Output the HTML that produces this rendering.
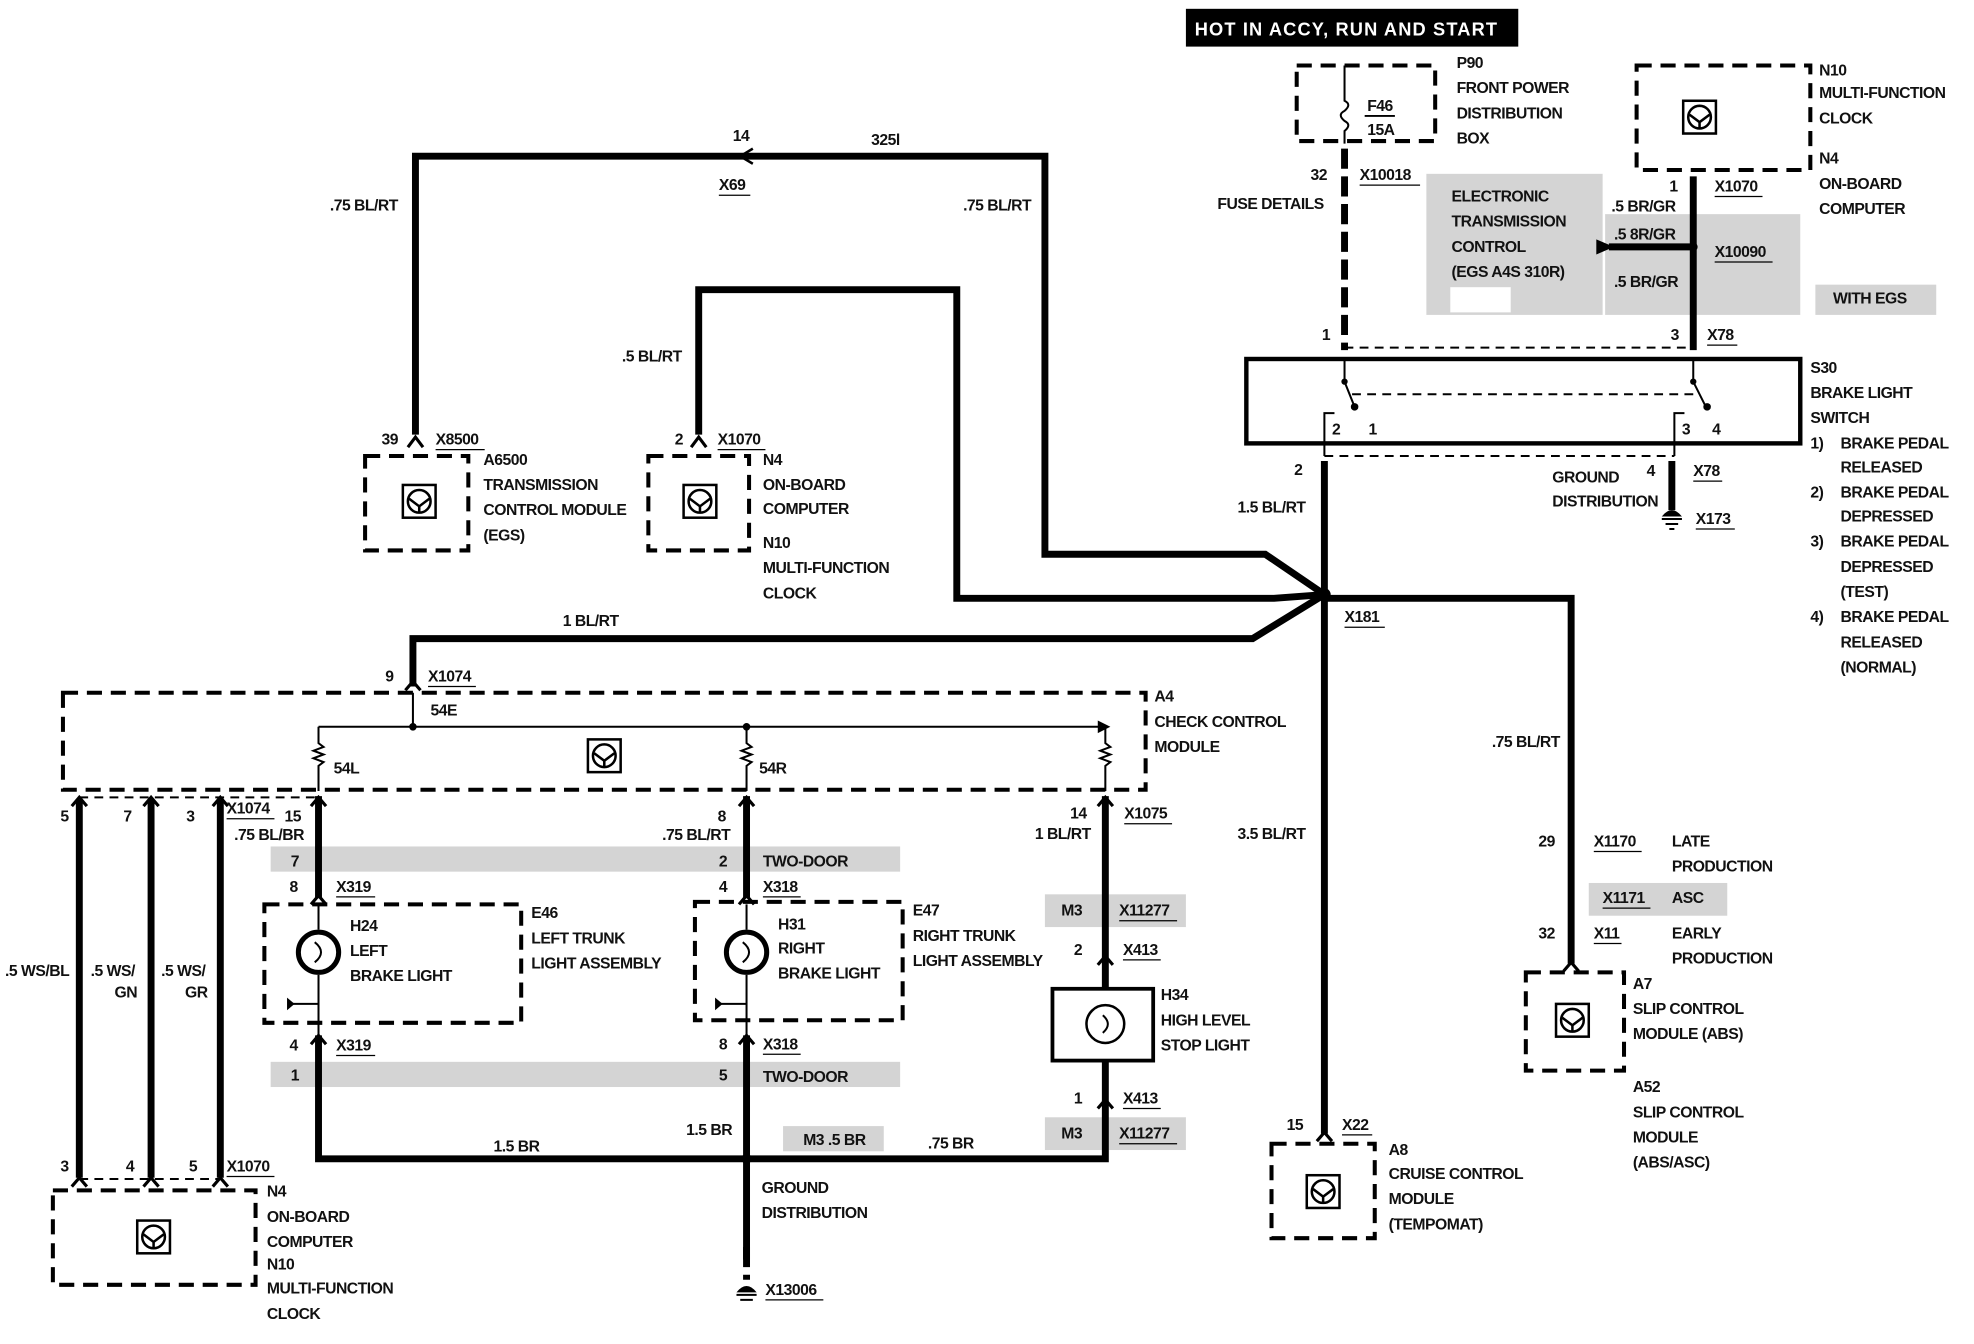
<!DOCTYPE html>
<html><head><meta charset="utf-8"><style>
html,body{margin:0;padding:0;background:#fff;}
svg{display:block;}
text{font-family:"Liberation Sans",sans-serif;font-size:12.5px;font-weight:bold;fill:#111;letter-spacing:-0.4px;}
.w{stroke:#000;stroke-width:5.5;fill:none;}
.t{stroke:#000;stroke-width:1.6;fill:none;}
.d{stroke:#000;stroke-width:3.2;fill:none;stroke-dasharray:12,7;}
.dd{stroke:#000;stroke-width:5.5;fill:none;stroke-dasharray:16,6;}
.dt{stroke:#000;stroke-width:1.6;fill:none;stroke-dasharray:7,5;}
.sh{fill:#d4d4d4;}
</style></head><body>
<svg width="1974" height="1344" viewBox="0 0 1568 1067" preserveAspectRatio="none" xmlns="http://www.w3.org/2000/svg">
<defs>
<g id="ic"><rect x="-13" y="-13" width="26" height="26" fill="#fff" stroke="#000" stroke-width="2"/><circle r="9" fill="none" stroke="#000" stroke-width="2"/><path d="M-8,-2 L0,4 L8,-2 M0,4 L0,9" stroke="#000" stroke-width="2" fill="none"/></g>
</defs>
<rect class="sh" x="1133" y="138" width="140" height="112"/>
<rect class="sh" x="1275" y="170" width="155" height="80"/>
<rect class="sh" x="1442" y="226" width="96" height="24"/>
<rect x="1152" y="228" width="48" height="20" fill="#fff"/>
<rect class="sh" x="215" y="672" width="500" height="20"/>
<rect class="sh" x="215" y="843" width="500" height="20"/>
<rect class="sh" x="830" y="710" width="112" height="26"/>
<rect class="sh" x="830" y="887" width="112" height="26"/>
<rect class="sh" x="622" y="894" width="80" height="20"/>
<rect class="sh" x="1262" y="701" width="110" height="26"/>

<rect x="942" y="7" width="264" height="30" fill="#000"/>
<text x="949" y="28" style="fill:#fff;font-size:14.5px;letter-spacing:0.9px;">HOT IN ACCY, RUN AND START</text>

<rect class="d" x="1030" y="52" width="110" height="60"/>
<path class="t" d="M1068,52 v28 q6,3 0,8 q-6,3 0,8 q6,3 0,8 v10" stroke-width="3"/>
<text x="1086" y="88">F46</text><line x1="1084" y1="92" x2="1108" y2="92" stroke="#000" stroke-width="1.5"/>
<text x="1086" y="107">15A</text>
<text x="1157" y="54">P90</text><text x="1157" y="74">FRONT POWER</text><text x="1157" y="94">DISTRIBUTION</text><text x="1157" y="114">BOX</text>
<path class="dd" d="M1068,118 V278"/>
<text x="1041" y="143">32</text><text x="1080" y="143">X10018</text><line x1="1080" y1="147" x2="1128" y2="147" stroke="#000"/>
<text x="967" y="166">FUSE DETAILS</text>
<text x="1050" y="270">1</text>

<rect class="d" x="1300" y="52" width="138" height="83"/>
<use href="#ic" x="1350" y="93"/>
<text x="1445" y="60">N10</text><text x="1445" y="78">MULTI-FUNCTION</text><text x="1445" y="98">CLOCK</text>
<text x="1445" y="130">N4</text><text x="1445" y="150">ON-BOARD</text><text x="1445" y="170">COMPUTER</text>
<path class="w" d="M1345,140 V278"/>
<text x="1326" y="152">1</text><text x="1362" y="152">X1070</text><line x1="1362" y1="156" x2="1400" y2="156" stroke="#000"/>
<text x="1280" y="168">.5 BR/GR</text><text x="1282" y="190">.5 8R/GR</text><text x="1282" y="228">.5 BR/GR</text>
<path class="w" d="M1278,196 H1343"/><path d="M1268,190 L1282,196 L1268,202 Z"/><circle cx="1345" cy="196" r="3.5"/>
<text x="1362" y="204">X10090</text><line x1="1362" y1="208" x2="1408" y2="208" stroke="#000"/>
<text x="1153" y="160">ELECTRONIC</text><text x="1153" y="180">TRANSMISSION</text><text x="1153" y="200">CONTROL</text><text x="1153" y="220">(EGS A4S 310R)</text>
<text x="1456" y="241">WITH EGS</text>
<text x="1327" y="270">3</text><text x="1356" y="270">X78</text><line x1="1356" y1="274" x2="1380" y2="274" stroke="#000"/>
<path class="dt" d="M1068,276 H1345"/>

<rect x="990" y="285" width="440" height="67" fill="none" stroke="#000" stroke-width="3.5"/>
<path class="t" d="M1068,285 v18 l8,20 M1345,285 v18 l10,20"/>
<circle cx="1068" cy="303" r="2.5"/><circle cx="1076" cy="323" r="3"/><circle cx="1345" cy="303" r="2.5"/><circle cx="1356" cy="323" r="3"/>
<path class="dt" d="M1074,313 H1350"/>
<path class="t" d="M1052,362 V328 h8 M1330,362 V328 h8"/>
<text x="1058" y="345">2</text><text x="1087" y="345">1</text><text x="1336" y="345">3</text><text x="1360" y="345">4</text>
<path class="dt" d="M1052,362 H1330"/>
<text x="1438" y="296">S30</text><text x="1438" y="316">BRAKE LIGHT</text><text x="1438" y="336">SWITCH</text>
<text x="1438" y="356">1)</text><text x="1462" y="356">BRAKE PEDAL</text><text x="1462" y="375">RELEASED</text>
<text x="1438" y="395">2)</text><text x="1462" y="395">BRAKE PEDAL</text><text x="1462" y="414">DEPRESSED</text>
<text x="1438" y="434">3)</text><text x="1462" y="434">BRAKE PEDAL</text><text x="1462" y="454">DEPRESSED</text><text x="1462" y="474">(TEST)</text>
<text x="1438" y="494">4)</text><text x="1462" y="494">BRAKE PEDAL</text><text x="1462" y="514">RELEASED</text><text x="1462" y="534">(NORMAL)</text>
<path class="w" d="M1328,366 V405"/><path class="t" d="M1320,412 h16 M1323,416 h10 M1326,420 h4" stroke-width="2"/><path d="M1320,410 q8,-10 16,0 Z"/>
<text x="1308" y="378">4</text><text x="1345" y="378">X78</text><line x1="1345" y1="382" x2="1368" y2="382" stroke="#000"/>
<text x="1233" y="383">GROUND</text><text x="1233" y="402">DISTRIBUTION</text>
<text x="1347" y="416">X173</text><line x1="1347" y1="420" x2="1378" y2="420" stroke="#000"/>

<path class="w" d="M1052,366 V900"/>
<text x="1028" y="377">2</text><text x="983" y="407">1.5 BL/RT</text>
<circle cx="1052" cy="472" r="5"/>
<text x="1068" y="494">X181</text><line x1="1068" y1="498" x2="1100" y2="498" stroke="#000"/>
<path class="w" d="M1052,475 H1248 V765"/>
<text x="1185" y="593">.75 BL/RT</text>
<text x="983" y="666">3.5 BL/RT</text>

<path class="w" d="M330,345 V124 H830 V440 H1005 L1052,472"/>
<path d="M598,118 L588,124 L598,130" fill="none" stroke="#000" stroke-width="2"/>
<text x="582" y="112">14</text><text x="692" y="115">325l</text>
<text x="571" y="151">X69</text><line x1="571" y1="155" x2="596" y2="155" stroke="#000"/>
<text x="262" y="167">.75 BL/RT</text><text x="765" y="167">.75 BL/RT</text>
<path class="w" d="M555,345 V230 H760 V475 H1012 L1052,472"/>
<text x="494" y="287">.5 BL/RT</text>
<path class="w" d="M328,545 V507 H995 L1052,472"/>
<text x="447" y="497">1 BL/RT</text>

<path d="M324,355 l6,-8 6,8" fill="none" stroke="#000" stroke-width="2.5"/><path d="M549,355 l6,-8 6,8" fill="none" stroke="#000" stroke-width="2.5"/>
<text x="303" y="353">39</text><text x="346" y="353">X8500</text><line x1="346" y1="357" x2="385" y2="357" stroke="#000"/>
<rect class="d" x="290" y="362" width="82" height="75"/><use href="#ic" x="333" y="398"/>
<text x="384" y="369">A6500</text><text x="384" y="389">TRANSMISSION</text><text x="384" y="409">CONTROL MODULE</text><text x="384" y="429">(EGS)</text>
<text x="536" y="353">2</text><text x="570" y="353">X1070</text><line x1="570" y1="357" x2="608" y2="357" stroke="#000"/>
<rect class="d" x="515" y="362" width="80" height="75"/><use href="#ic" x="556" y="398"/>
<text x="606" y="369">N4</text><text x="606" y="389">ON-BOARD</text><text x="606" y="408">COMPUTER</text>
<text x="606" y="435">N10</text><text x="606" y="455">MULTI-FUNCTION</text><text x="606" y="475">CLOCK</text>

<text x="306" y="541">9</text><text x="340" y="541">X1074</text><line x1="340" y1="545" x2="378" y2="545" stroke="#000"/>
<path d="M322,548 l6,-7 6,7" fill="none" stroke="#000" stroke-width="2.5"/>
<rect class="d" x="50" y="550" width="860" height="77"/>
<use href="#ic" x="480" y="600"/>
<text x="917" y="557">A4</text><text x="917" y="577">CHECK CONTROL</text><text x="917" y="597">MODULE</text>
<path class="t" d="M328,550 V577 M253,577 H878"/><path d="M872,572 L882,577 L872,582 Z"/>
<circle cx="328" cy="577" r="3"/><circle cx="593" cy="577" r="3"/>
<text x="342" y="568">54E</text>
<path class="t" d="M253,577 V590 l4,3 -8,3 8,3 -8,3 8,3 -4,3 V628 M593,577 V590 l4,3 -8,3 8,3 -8,3 8,3 -4,3 V628 M878,577 V590 l4,3 -8,3 8,3 -8,3 8,3 -4,3 V628"/>
<text x="265" y="614">54L</text><text x="603" y="614">54R</text>

<path class="w" d="M63,635 V935 M120,635 V935 M175,635 V935"/>
<path d="M57,640 l6,-7 6,7 M114,640 l6,-7 6,7 M169,640 l6,-7 6,7 M57,942 l6,-7 6,7 M114,942 l6,-7 6,7 M169,942 l6,-7 6,7" fill="none" stroke="#000" stroke-width="2.5"/>
<path class="dt" d="M63,633 H253 M63,936 H175"/>
<text x="48" y="652">5</text><text x="98" y="652">7</text><text x="148" y="652">3</text>
<text x="180" y="646">X1074</text><line x1="180" y1="650" x2="218" y2="650" stroke="#000"/>
<text x="4" y="775">.5 WS/BL</text><text x="72" y="775">.5 WS/</text><text x="91" y="792">GN</text><text x="128" y="775">.5 WS/</text><text x="147" y="792">GR</text>
<text x="48" y="930">3</text><text x="100" y="930">4</text><text x="150" y="930">5</text>
<text x="180" y="930">X1070</text><line x1="180" y1="934" x2="218" y2="934" stroke="#000"/>
<rect class="d" x="42" y="945" width="161" height="75"/><use href="#ic" x="122" y="982"/>
<text x="212" y="950">N4</text><text x="212" y="970">ON-BOARD</text><text x="212" y="990">COMPUTER</text><text x="212" y="1008">N10</text><text x="212" y="1027">MULTI-FUNCTION</text><text x="212" y="1047">CLOCK</text>

<path class="w" d="M253,632 V713 M593,632 V713 M878,632 V785"/>
<path d="M247,640 l6,-7 6,7 M587,640 l6,-7 6,7 M872,640 l6,-7 6,7" fill="none" stroke="#000" stroke-width="2.5"/>
<text x="226" y="652">15</text><text x="186" y="667">.75 BL/BR</text>
<text x="570" y="652">8</text><text x="526" y="667">.75 BL/RT</text>
<text x="850" y="650">14</text><text x="822" y="666">1 BL/RT</text>
<text x="893" y="650">X1075</text><line x1="893" y1="654" x2="931" y2="654" stroke="#000"/>
<text x="231" y="688">7</text><text x="571" y="688">2</text><text x="606" y="688">TWO-DOOR</text>
<text x="230" y="708">8</text><text x="267" y="708">X319</text><line x1="267" y1="712" x2="298" y2="712" stroke="#000"/>
<text x="571" y="708">4</text><text x="606" y="708">X318</text><line x1="606" y1="712" x2="636" y2="712" stroke="#000"/>
<path d="M247,718 l6,-7 6,7 M587,718 l6,-7 6,7" fill="none" stroke="#000" stroke-width="2.5"/>
<rect class="d" x="210" y="718" width="204" height="94"/>
<rect class="d" x="552" y="716" width="165" height="94"/>
<path class="t" d="M253,718 V738 M253,774 V822 M593,718 V738 M593,774 V822"/>
<circle cx="253" cy="756" r="16" fill="#fff" stroke="#000" stroke-width="4"/><path class="t" d="M250,748 q10,8 0,16"/>
<circle cx="593" cy="756" r="16" fill="#fff" stroke="#000" stroke-width="4"/><path class="t" d="M590,748 q10,8 0,16"/>
<path class="t" d="M230,797 H253 M570,797 H593"/><path d="M228,792 l6,5 -6,5Z M568,792 l6,5 -6,5Z"/>
<text x="278" y="739">H24</text><text x="278" y="759">LEFT</text><text x="278" y="779">BRAKE LIGHT</text>
<text x="422" y="729">E46</text><text x="422" y="749">LEFT TRUNK</text><text x="422" y="769">LIGHT ASSEMBLY</text>
<text x="618" y="738">H31</text><text x="618" y="757">RIGHT</text><text x="618" y="777">BRAKE LIGHT</text>
<text x="725" y="727">E47</text><text x="725" y="747">RIGHT TRUNK</text><text x="725" y="767">LIGHT ASSEMBLY</text>
<text x="230" y="834">4</text><text x="267" y="834">X319</text><line x1="267" y1="838" x2="298" y2="838" stroke="#000"/>
<text x="571" y="833">8</text><text x="606" y="833">X318</text><line x1="606" y1="837" x2="636" y2="837" stroke="#000"/>
<text x="231" y="858">1</text><text x="571" y="858">5</text><text x="606" y="859">TWO-DOOR</text>
<path d="M247,829 l6,-7 6,7 M587,829 l6,-7 6,7 M872,880 l6,-7 6,7" fill="none" stroke="#000" stroke-width="2.5"/>
<path class="w" d="M253,822 V920 H878 V842 M593,822 V1000"/>
<path class="dd" d="M593,990 V1016"/>
<circle cx="593" cy="920" r="4"/>
<path class="t" d="M585,1028 h16 M588,1032 h10" stroke-width="2"/><path d="M585,1026 q8,-10 16,0 Z"/>
<text x="392" y="914">1.5 BR</text><text x="545" y="901">1.5 BR</text><text x="638" y="909">M3 .5 BR</text><text x="737" y="912">.75 BR</text>
<text x="605" y="947">GROUND</text><text x="605" y="967">DISTRIBUTION</text>
<text x="608" y="1028">X13006</text><line x1="608" y1="1032" x2="654" y2="1032" stroke="#000"/>

<text x="843" y="727">M3</text><text x="889" y="727">X11277</text><line x1="889" y1="731" x2="935" y2="731" stroke="#000"/>
<text x="853" y="758">2</text><text x="892" y="758">X413</text><line x1="892" y1="762" x2="922" y2="762" stroke="#000"/>
<path d="M872,766 l6,-7 6,7" fill="none" stroke="#000" stroke-width="2.5"/>
<rect x="836" y="785" width="80" height="57" fill="#fff" stroke="#000" stroke-width="3"/>
<circle cx="878" cy="813" r="15" fill="none" stroke="#000" stroke-width="2"/><path class="t" d="M876,806 q8,7 0,14"/>
<text x="922" y="794">H34</text><text x="922" y="814">HIGH LEVEL</text><text x="922" y="834">STOP LIGHT</text>
<text x="853" y="876">1</text><text x="892" y="876">X413</text><line x1="892" y1="880" x2="922" y2="880" stroke="#000"/>
<text x="843" y="904">M3</text><text x="889" y="904">X11277</text><line x1="889" y1="908" x2="935" y2="908" stroke="#000"/>

<path d="M1046,906 l6,-7 6,7 M1242,771 l6,-7 6,7" fill="none" stroke="#000" stroke-width="2.5"/>
<text x="1022" y="897">15</text><text x="1066" y="897">X22</text><line x1="1066" y1="901" x2="1090" y2="901" stroke="#000"/>
<rect class="d" x="1010" y="908" width="82" height="75"/><use href="#ic" x="1051" y="946"/>
<text x="1103" y="917">A8</text><text x="1103" y="936">CRUISE CONTROL</text><text x="1103" y="956">MODULE</text><text x="1103" y="976">(TEMPOMAT)</text>

<text x="1222" y="672">29</text><text x="1266" y="672">X1170</text><line x1="1266" y1="676" x2="1304" y2="676" stroke="#000"/>
<text x="1328" y="672">LATE</text><text x="1328" y="692">PRODUCTION</text>
<text x="1273" y="717">X1171</text><line x1="1273" y1="721" x2="1311" y2="721" stroke="#000"/><text x="1328" y="717">ASC</text>
<text x="1222" y="745">32</text><text x="1266" y="745">X11</text><line x1="1266" y1="749" x2="1288" y2="749" stroke="#000"/>
<text x="1328" y="745">EARLY</text><text x="1328" y="765">PRODUCTION</text>
<rect class="d" x="1212" y="772" width="78" height="78"/><use href="#ic" x="1249" y="810"/>
<text x="1297" y="785">A7</text><text x="1297" y="805">SLIP CONTROL</text><text x="1297" y="825">MODULE (ABS)</text>
<text x="1297" y="867">A52</text><text x="1297" y="887">SLIP CONTROL</text><text x="1297" y="907">MODULE</text><text x="1297" y="927">(ABS/ASC)</text>
</svg>
</body></html>
